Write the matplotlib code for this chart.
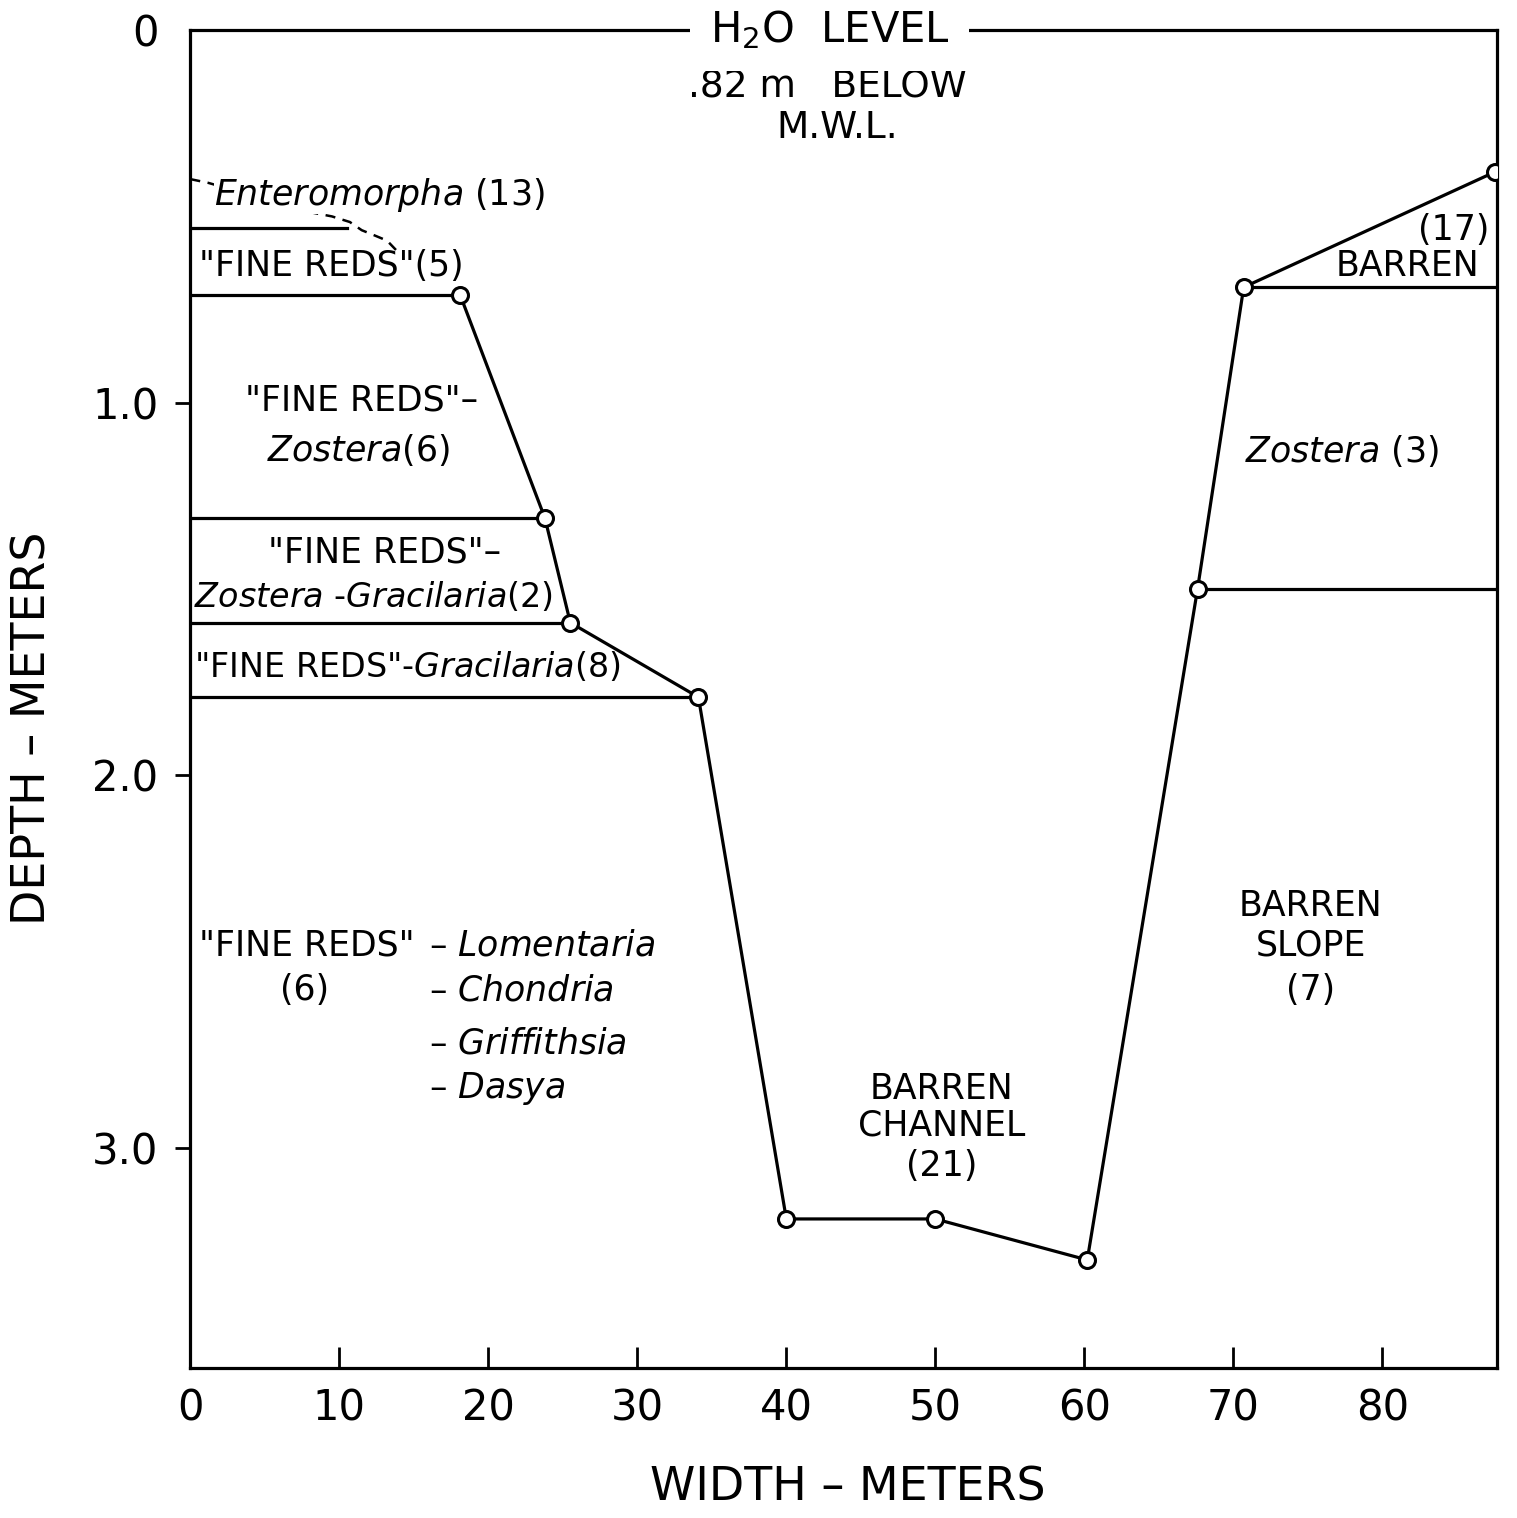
import matplotlib
matplotlib.use("Agg")
import matplotlib.pyplot as plt

plt.rcParams['font.family'] = ['DejaVu Sans']
plt.rcParams['mathtext.fontset'] = 'dejavusans'

# bottom profile (width m, depth m)
profile_x = [18.1, 23.8, 25.5, 34.1, 40.0, 50.0, 60.2, 67.6, 70.7, 87.6]
profile_y = [0.71, 1.31, 1.59, 1.79, 3.19, 3.19, 3.30, 1.50, 0.69, 0.38]

# zone boundaries on the left slope: depth and where they meet the profile
left_zone_y = [0.71, 1.31, 1.59, 1.79]
left_zone_x = [18.1, 23.8, 25.5, 34.1]
# zone boundaries on the right slope
right_zone_y = [0.69, 1.50]
right_zone_x = [70.7, 67.6]

# Enteromorpha zone: solid lower line and dashed boundary
ent_line_x = [0, 10.5]
ent_line_y = [0.53, 0.53]
ent_dash_x = [0, 1.2, 8.2, 9.5, 10.7, 11.5, 12.3, 13.2, 13.8]
ent_dash_y = [0.40, 0.41, 0.49, 0.50, 0.515, 0.537, 0.55, 0.565, 0.59]

x_ticks = [0, 10, 20, 30, 40, 50, 60, 70, 80]
y_ticks = [0, 1, 2, 3]
y_tick_labels = ['0', '1.0', '2.0', '3.0']
x_max = 87.7
y_max = 3.59

fig = plt.figure(figsize=(15.17, 15.18), dpi=100)
ax = fig.add_axes([0.1255, 0.0988, 0.8613, 0.8814])

lw = 2.3
ax.plot(profile_x, profile_y, color='black', lw=lw, marker='o', ms=11.5,
        mfc='white', mec='black', mew=2.2, zorder=5)

for y, x in zip(left_zone_y, left_zone_x):
    ax.plot([0, x], [y, y], color='black', lw=lw, zorder=3)
for y, x in zip(right_zone_y, right_zone_x):
    ax.plot([x, x_max], [y, y], color='black', lw=lw, zorder=3)

ax.plot(ent_line_x, ent_line_y, color='black', lw=lw, zorder=3)
ax.plot(ent_dash_x, ent_dash_y, color='black', lw=1.8, ls=(0, (4, 3)), zorder=2)

ax.set_xlim(0, x_max)
ax.set_ylim(y_max, 0)

ax.set_xticks(x_ticks)
ax.set_xticklabels([str(v) for v in x_ticks])
ax.set_yticks(y_ticks)
ax.set_yticklabels(y_tick_labels)
ax.tick_params(axis='x', direction='in', length=15, width=2, labelsize=30, pad=14)
ax.tick_params(axis='y', direction='out', length=11, width=2, labelsize=30, pad=12)
ax.yaxis.get_major_ticks()[0].tick1line.set_visible(False)
ax.xaxis.get_major_ticks()[0].tick1line.set_visible(False)

for s in ax.spines.values():
    s.set_linewidth(lw)

ax.set_xlabel('WIDTH – METERS', fontsize=33)
ax.set_ylabel('DEPTH – METERS', fontsize=33)
ax.xaxis.set_label_coords(0.503, -0.0725)
ax.yaxis.set_label_coords(-0.103, 0.478)

fs = 25
# water level note sitting on the top line
ax.text(42.9, 0.0, 'H$_2$O  LEVEL', fontsize=30, ha='center', va='center',
        bbox=dict(facecolor='white', edgecolor='none', pad=14), zorder=6, clip_on=False)
ax.text(42.75, 0.153, '.82 m   BELOW', fontsize=27, ha='center', va='center')
ax.text(43.4, 0.262, 'M.W.L.', fontsize=27, ha='center', va='center')

ax.text(1.6, 0.443, r'$\mathit{Enteromorpha}$ (13)', fontsize=fs, ha='left', va='center',
        bbox=dict(facecolor='white', edgecolor='none', pad=0), zorder=4)
ax.text(0.6, 0.634, '"FINE REDS"(5)', fontsize=fs, ha='left', va='center')
ax.text(11.5, 0.993, '"FINE REDS"–', fontsize=fs, ha='center', va='center')
ax.text(11.3, 1.128, r'$\mathit{Zostera}$(6)', fontsize=fs, ha='center', va='center')
ax.text(13.0, 1.401, '"FINE REDS"–', fontsize=fs, ha='center', va='center')
ax.text(12.3, 1.52, r'$\mathit{Zostera}$ -$\mathit{Gracilaria}$(2)', fontsize=24, ha='center', va='center')
ax.text(0.27, 1.71, r'"FINE REDS"-$\mathit{Gracilaria}$(8)', fontsize=24, ha='left', va='center')

ax.text(0.6, 2.456, '"FINE REDS"', fontsize=fs, ha='left', va='center')
ax.text(7.65, 2.577, '(6)', fontsize=fs, ha='center', va='center')
ax.text(16.0, 2.456, r'– $\mathit{Lomentaria}$', fontsize=fs, ha='left', va='center')
ax.text(16.0, 2.577, r'– $\mathit{Chondria}$', fontsize=fs, ha='left', va='center')
ax.text(16.0, 2.72, r'– $\mathit{Griffithsia}$', fontsize=fs, ha='left', va='center')
ax.text(16.0, 2.84, r'– $\mathit{Dasya}$', fontsize=fs, ha='left', va='center')

ax.text(50.4, 2.84, 'BARREN', fontsize=fs, ha='center', va='center')
ax.text(50.4, 2.94, 'CHANNEL', fontsize=fs, ha='center', va='center')
ax.text(50.4, 3.047, '(21)', fontsize=fs, ha='center', va='center')

ax.text(77.3, 1.13, r'$\mathit{Zostera}$ (3)', fontsize=fs, ha='center', va='center')
ax.text(87.2, 0.537, '(17)', fontsize=fs, ha='right', va='center')
ax.text(86.5, 0.634, 'BARREN', fontsize=fs, ha='right', va='center')

ax.text(75.2, 2.35, 'BARREN', fontsize=fs, ha='center', va='center')
ax.text(75.2, 2.456, 'SLOPE', fontsize=fs, ha='center', va='center')
ax.text(75.2, 2.577, '(7)', fontsize=fs, ha='center', va='center')

fig.savefig('out.png', dpi=100, facecolor='white')
